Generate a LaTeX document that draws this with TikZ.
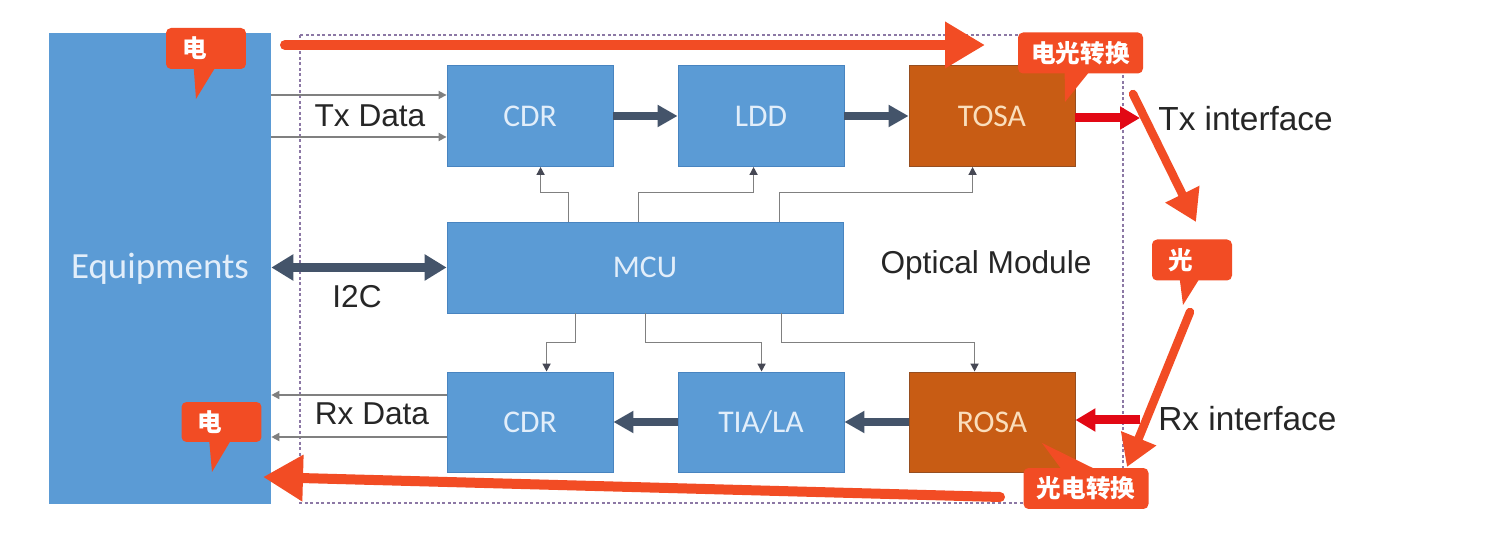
\documentclass[tikz,border=0pt]{standalone}
\usepackage{fontspec}
\setmainfont{Liberation Sans}
\newfontfamily\boxfont{Carlito}
\newfontfamily\cjk{Noto Sans CJK SC}
\usetikzlibrary{arrows.meta}
\definecolor{boxblue}{RGB}{91,155,213}
\definecolor{boxedge}{RGB}{72,132,192}
\definecolor{boxtext}{RGB}{226,238,250}
\definecolor{osa}{RGB}{200,92,20}
\definecolor{osaedge}{RGB}{150,78,32}
\definecolor{osatext}{RGB}{250,222,188}
\definecolor{busc}{RGB}{68,84,106}
\definecolor{hint}{RGB}{242,76,36}
\definecolor{optred}{RGB}{226,8,20}
\definecolor{wire}{RGB}{128,128,128}
\definecolor{tipc}{RGB}{70,72,84}
\definecolor{frameline}{RGB}{140,120,165}

\begin{document}
\begin{tikzpicture}[x=0.02cm,y=-0.02cm]
                        \tikzstyle{blk}=[draw=boxedge, fill=boxblue, line width=0.5pt, inner sep=0pt,
                            minimum width=3.32cm, minimum height=2.02cm, text=boxtext,
                            font=\boxfont\fontsize{18}{20}\selectfont]
                        \tikzstyle{osablk}=[blk, draw=osaedge, fill=osa, text=osatext]
                        \tikzstyle{lbl}=[inner sep=0pt, text=black!85, font=\fontsize{18}{20}\selectfont]
                        \tikzstyle{iflbl}=[lbl, anchor=west, font=\fontsize{19}{21}\selectfont]
                        \tikzstyle{dat}=[draw=wire, line width=0.035cm, -{Triangle[length=0.16cm,width=0.16cm]}]
                        \tikzstyle{ctl}=[draw=wire, line width=0.03cm, -{Triangle[length=0.16cm,width=0.16cm,color=tipc]}]
                        \tikzstyle{bus}=[draw=busc, line width=0.16cm, -{Triangle[length=0.4cm,width=0.42cm]}]
                        \tikzstyle{busd}=[draw=busc, line width=0.18cm, {Triangle[length=0.44cm,width=0.5cm]}-{Triangle[length=0.44cm,width=0.5cm]}]
                        \tikzstyle{opt}=[draw=optred, line width=0.18cm, -{Triangle[length=0.4cm,width=0.44cm]}]
                        \tikzstyle{hintbig}=[draw=hint, line width=0.2cm, line cap=round, -{Triangle[length=0.8cm,width=0.88cm]}]
                        \tikzstyle{hintsmall}=[draw=hint, line width=0.17cm, line cap=round, -{Triangle[length=0.62cm,width=0.72cm]}]
                        \tikzstyle{tag}=[fill=hint, rounded corners=0.1cm, inner ysep=0pt, inner xsep=0.32cm,
                            text width=0.96cm, align=left, minimum height=0.82cm, text=white,
                            font=\cjk\bfseries\fontsize{14}{16}\selectfont]
                        \tikzstyle{tagwide}=[tag, inner xsep=0.2cm, text width=2.1cm, align=center]
                        \tikzstyle{frame}=[draw=frameline, line width=0.04cm, dash pattern=on 0.06cm off 0.05cm]

                        \fill[white] (0,0) rectangle (1508,536);
                        \useasboundingbox (0,0) rectangle (1508,536);

                        \draw[frame] (300,35) rectangle (1123,503);

                        \node[fill=boxblue, inner sep=0pt, minimum width=4.44cm, minimum height=9.42cm,
                            text=boxtext, font=\boxfont\fontsize{21}{24}\selectfont] (equip) at (160,268.5) {Equipments};

                        \node[blk] (cdr1) at (530,116) {CDR};
                        \node[blk] (ldd) at (761,116) {LDD};
                        \node[osablk] (tosa) at (992,116) {TOSA};
                        \node[blk, minimum width=7.92cm, minimum height=1.82cm] (mcu) at (645,267.5) {MCU};
                        \node[blk, minimum height=2cm] (cdr2) at (530,422) {CDR};
                        \node[blk, minimum height=2cm] (tia) at (761,422) {TIA/LA};
                        \node[osablk, minimum height=2cm] (rosa) at (992,422) {ROSA};

                        \node[lbl] (txd) at (370,116) {Tx Data};
                        \node[lbl] (rxd) at (372,414) {Rx Data};
                        \node[lbl] (i2c) at (357,297) {I2C};
                        \node[lbl] (om) at (986,265) {Optical Module};
                        \node[iflbl] (txif) at (1158,119) {Tx interface};
                        \node[iflbl] (rxif) at (1158,419) {Rx interface};

                        \coordinate (tx1) at ([yshift=0.42cm]cdr1.west);
                        \coordinate (tx2) at ([yshift=-0.42cm]cdr1.west);
                        \coordinate (rx1) at ([yshift=0.54cm]cdr2.west);
                        \coordinate (rx2) at ([yshift=-0.3cm]cdr2.west);
                        \draw[dat] (equip.east |- tx1) -- (tx1);
                        \draw[dat] (equip.east |- tx2) -- (tx2);
                        \draw[dat] (rx1) -- (equip.east |- rx1);
                        \draw[dat] (rx2) -- (equip.east |- rx2);

                        \draw[bus] (cdr1) -- (ldd);
                        \draw[bus] (ldd) -- (tosa);
                        \draw[bus] (rosa) -- (tia);
                        \draw[bus] (tia) -- (cdr2);
                        \draw[busd] (equip.east |- mcu.west) -- (mcu.west);

                        \coordinate (txo) at (1140,118);
                        \coordinate (rxo) at (1140,420);
                        \draw[opt] (tosa.east |- txo) -- (txo);
                        \draw[opt] (rxo) -- (rosa.east |- rxo);

                        \draw[ctl] ([xshift=2.44cm]mcu.north west) -- ++(0,-29) -| ([xshift=1.88cm]cdr1.south west);
                        \draw[ctl] ([xshift=3.84cm]mcu.north west) -- ++(0,-29) -| ([xshift=1.52cm]ldd.south west);
                        \draw[ctl] ([xshift=6.66cm]mcu.north west) -- ++(0,-29) -| ([xshift=1.28cm]tosa.south west);
                        \draw[ctl] ([xshift=2.58cm]mcu.south west) -- ++(0,29) -| ([xshift=2.0cm]cdr2.north west);
                        \draw[ctl] ([xshift=3.98cm]mcu.south west) -- ++(0,29) -| ([xshift=1.68cm]tia.north west);
                        \draw[ctl] ([xshift=6.7cm]mcu.south west) -- ++(0,29) -| ([xshift=1.32cm]rosa.north west);

                        \coordinate (h1a) at (285,45);
                        \coordinate (h1b) at (985,45);
                        \coordinate (h2a) at (1133,94);
                        \coordinate (h2b) at (1196,222);
                        \coordinate (h3a) at (1190,312);
                        \coordinate (h3b) at (1127,467);
                        \coordinate (h4a) at (1000,497);
                        \coordinate (h4b) at (263,477);
                        \draw[hintbig] (h1a) -- (h1b);
                        \draw[hintsmall] (h2a) -- (h2b);
                        \draw[hintsmall] (h3a) -- (h3b);
                        \draw[hintbig] (h4a) -- (h4b);

                        \node[tag] (el1) at (206,48.5) {电};
                        \node[tagwide] (eo) at (1080.5,53) {电光转换};
                        \node[tag] (op) at (1192,260) {光};
                        \node[tagwide, minimum height=0.82cm] (oe) at (1086,488.5) {光电转换};
                        \node[tag, minimum height=0.8cm] (el2) at (221.5,422) {电};

                        \coordinate (el1t) at (196,99);
                        \coordinate (eot) at (1065,102);
                        \coordinate (opt) at (1183,305);
                        \coordinate (oet) at (1042,443);
                        \coordinate (el2t) at (212,472);
                        \fill[hint] ([xshift=0.56cm,yshift=0.05cm]el1.south west) -- ([xshift=1.0cm,yshift=0.05cm]el1.south west) -- (el1t) -- cycle;
                        \fill[hint] ([xshift=0.94cm,yshift=0.05cm]eo.south west) -- ([xshift=1.44cm,yshift=0.05cm]eo.south west) -- (eot) -- cycle;
                        \fill[hint] ([xshift=0.56cm,yshift=0.05cm]op.south west) -- ([xshift=0.96cm,yshift=0.05cm]op.south west) -- (opt) -- cycle;
                        \fill[hint] ([xshift=0.78cm,yshift=-0.05cm]oe.north west) -- ([xshift=1.48cm,yshift=-0.05cm]oe.north west) -- (oet) -- cycle;
                        \fill[hint] ([xshift=0.56cm,yshift=0.05cm]el2.south west) -- ([xshift=1.0cm,yshift=0.05cm]el2.south west) -- (el2t) -- cycle;
                    \end{tikzpicture}
\end{document}
